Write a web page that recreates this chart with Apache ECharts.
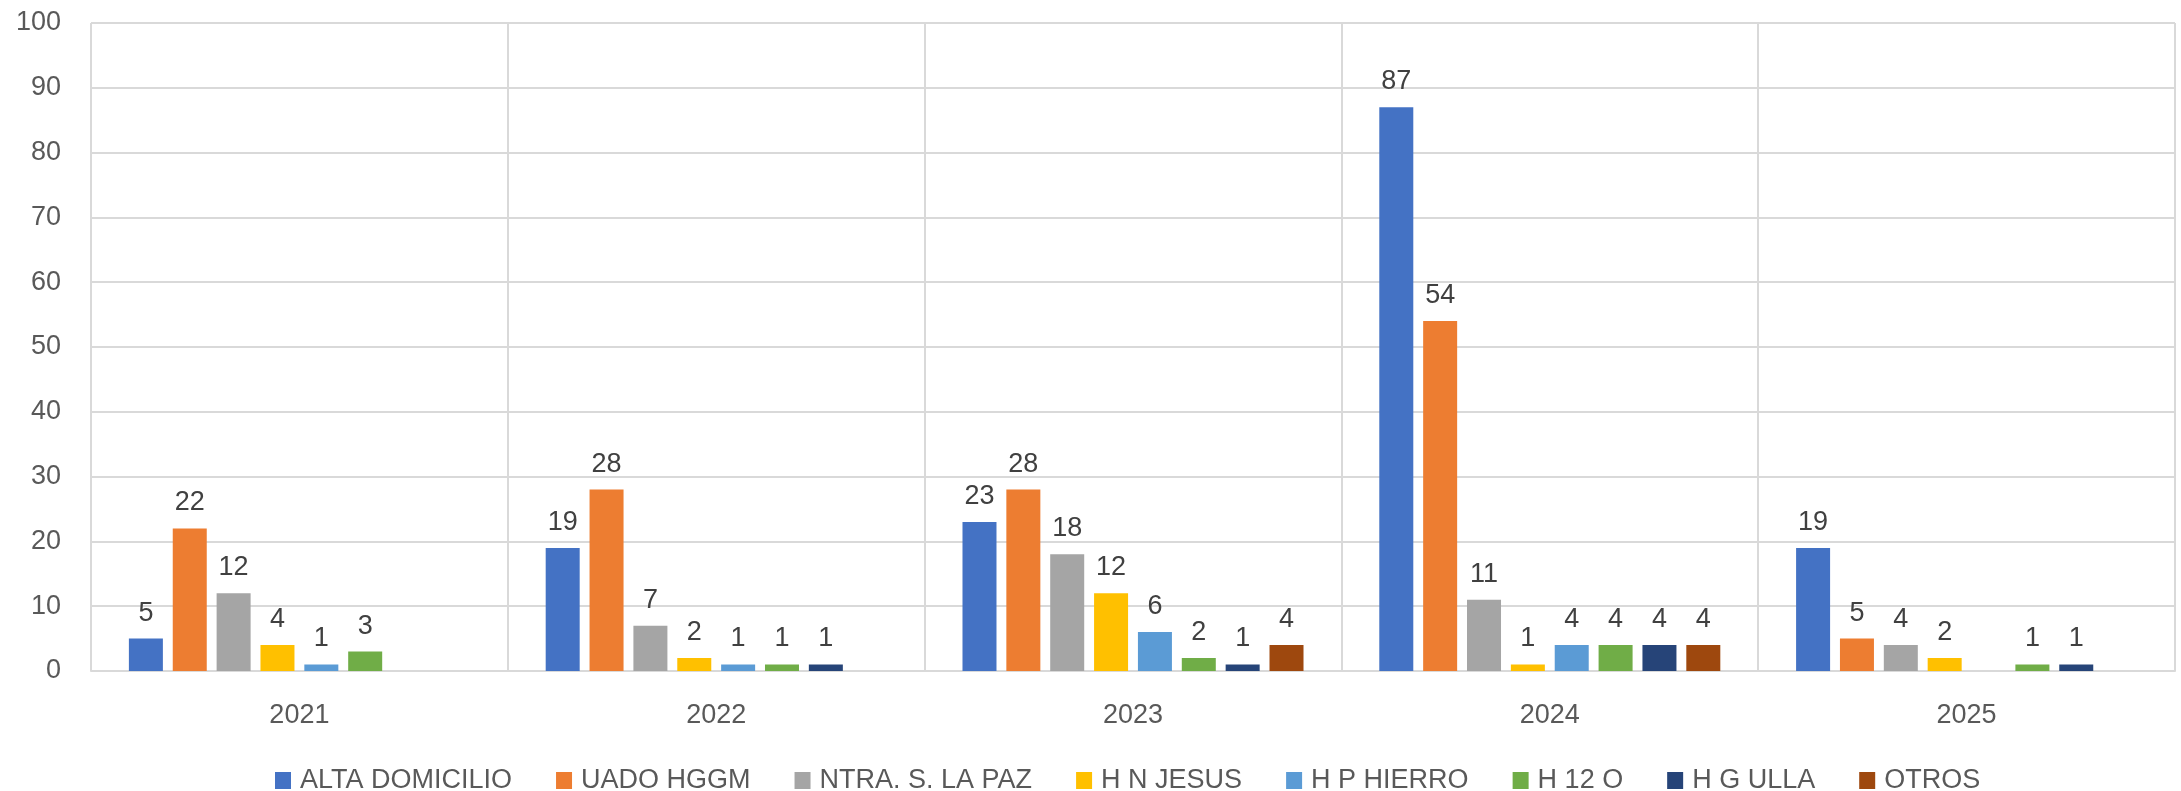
<!DOCTYPE html>
<html>
<head>
<meta charset="utf-8">
<script src="https://cdn.jsdelivr.net/npm/echarts@6/dist/echarts.min.js"></script>
<style>
  html, body { margin: 0; padding: 0; background: #fff; }
  #chart { width: 2181px; height: 791px; }
</style>
</head>
<body>
<div id="chart"></div>
<script>
// categories (years)
var years = ['2021', '2022', '2023', '2024', '2025'];

// series values, null = no bar
var altaDomicilio = [5, 19, 23, 87, 19];
var uadoHggm = [22, 28, 28, 54, 5];
var ntraLaPaz = [12, 7, 18, 11, 4];
var hNJesus = [4, 2, 12, 1, 2];
var hPHierro = [1, 1, 6, 4, null];
var h12O = [3, 1, 2, 4, 1];
var hGUlla = [null, 1, 1, 4, 1];
var otros = [null, null, 4, 4, null];

var seriesNames = ['ALTA DOMICILIO', 'UADO HGGM', 'NTRA. S. LA PAZ', 'H N JESUS', 'H P HIERRO', 'H 12 O', 'H G ULLA', 'OTROS'];
var seriesData = [altaDomicilio, uadoHggm, ntraLaPaz, hNJesus, hPHierro, h12O, hGUlla, otros];
var colors = ['#4472C4', '#ED7D31', '#A5A5A5', '#FFC000', '#5B9BD5', '#70AD47', '#264478', '#9E480E'];

var FONT = 'Liberation Sans';

var chart = echarts.init(document.getElementById('chart'), null, { renderer: 'canvas' });

var series = seriesNames.map(function (name, i) {
  return {
    name: name,
    type: 'bar',
    barWidth: 34,
    barGap: '29%',
    itemStyle: { color: colors[i] },
    label: {
      show: true,
      position: 'top',
      distance: 12,
      color: '#404040',
      fontFamily: FONT,
      fontSize: 27
    },
    data: seriesData[i].map(function (v) { return v === null ? '-' : v; })
  };
});

var option = {
  animation: false,
  backgroundColor: '#fff',
  color: colors,
  grid: {
    left: 91,
    right: 6,
    top: 23,
    bottom: 120
  },
  legend: {
    top: 762,
    left: 270,
    itemWidth: 16,
    itemHeight: 17,
    itemGap: 44,
    icon: 'rect',
    textStyle: {
      color: '#595959',
      fontFamily: FONT,
      fontSize: 27,
      padding: [0, 0, 0, 4]
    },
    data: seriesNames
  },
  xAxis: {
    type: 'category',
    data: years,
    axisLine: { lineStyle: { color: '#D9D9D9', width: 2 } },
    axisTick: { show: false },
    splitLine: { show: true, lineStyle: { color: '#D9D9D9', width: 2 } },
    axisLabel: {
      color: '#595959',
      fontFamily: FONT,
      fontSize: 27,
      margin: 31
    }
  },
  yAxis: {
    type: 'value',
    min: 0,
    max: 100,
    interval: 10,
    axisLine: { show: false },
    axisTick: { show: false },
    splitLine: { lineStyle: { color: '#D9D9D9', width: 2 } },
    axisLabel: {
      color: '#595959',
      fontFamily: FONT,
      fontSize: 27,
      margin: 30
    }
  },
  series: series
};

chart.setOption(option);
</script>
</body>
</html>
